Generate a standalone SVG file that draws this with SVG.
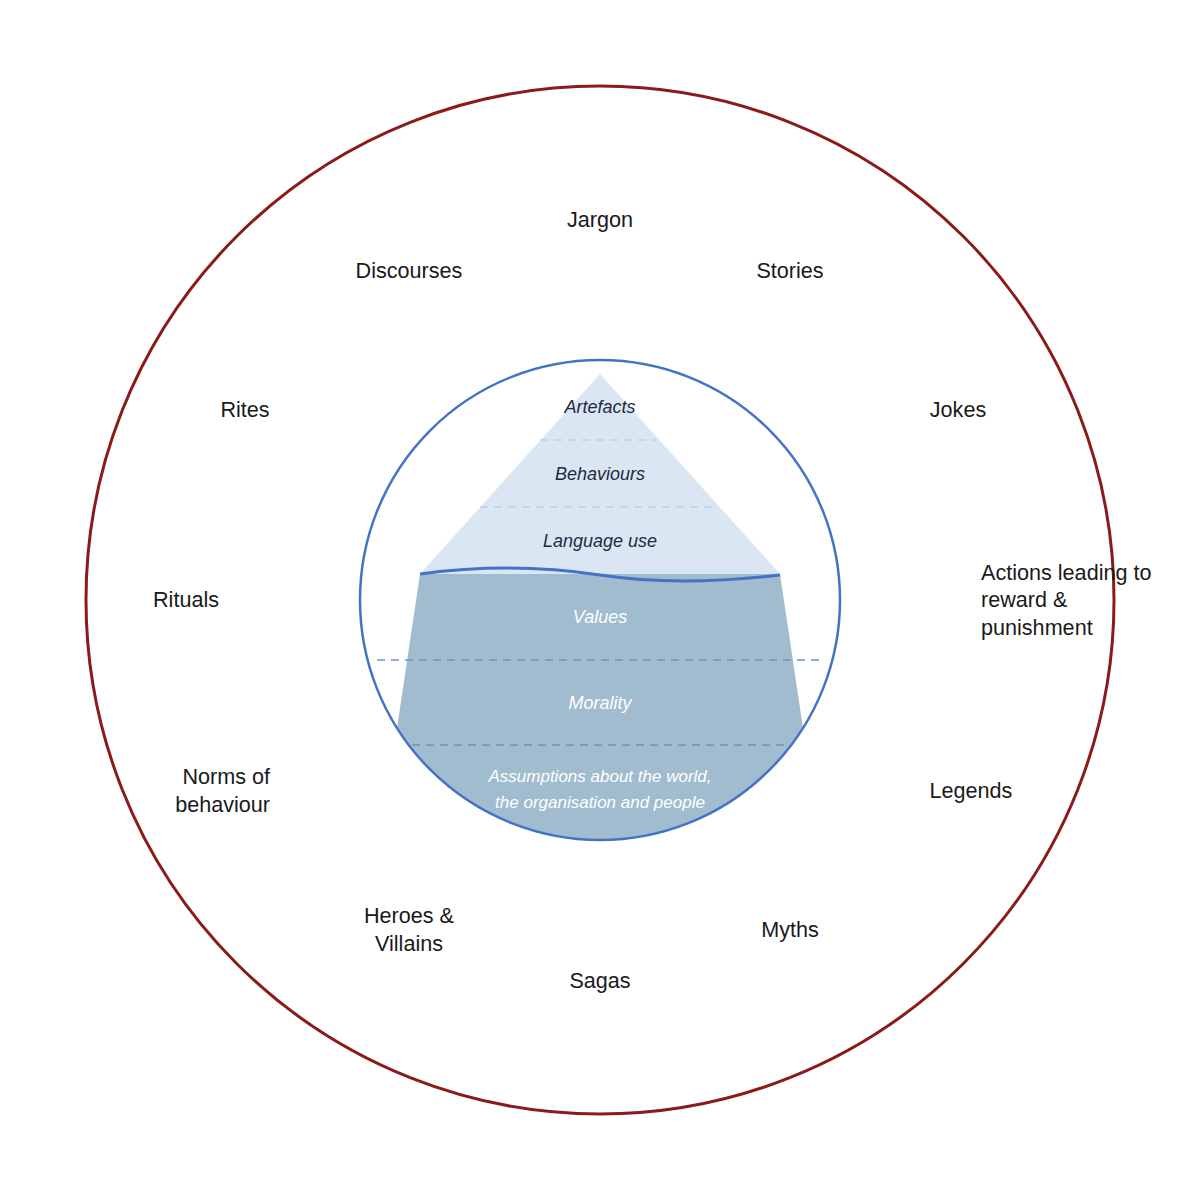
<svg xmlns="http://www.w3.org/2000/svg" width="1200" height="1200" viewBox="0 0 1200 1200">
<style>
.lbl{font-family:"Liberation Sans",Arial,sans-serif;font-size:21.6px;fill:#1a1a1a}
.in{font-family:"Liberation Sans",Arial,sans-serif;font-size:18px;font-style:italic;text-anchor:middle}
.d{fill:#1f2a44}.w{fill:#ffffff}
</style>
<rect width="1200" height="1200" fill="#fff"/>
<g id="outer"><circle cx="600" cy="600" r="514" fill="none" stroke="#8b1a1a" stroke-width="3"/></g>
<g id="iceberg">
<polygon points="600,374 420,574 780,574" fill="#dae7f3"/>
<path d="M420,574 L397,728 A240,240 0 0 0 803,728 L780,574 Z" fill="#a1bccf"/>
<path d="M420,574 C480,566 540,566 600,575 S720,582 780,575" fill="none" stroke="#4472c4" stroke-width="3"/>
<g stroke-dasharray="8,6" fill="none">
<line x1="540" y1="440" x2="656" y2="440" stroke="#b0c6dd" stroke-width="1.2"/>
<line x1="480" y1="507" x2="716" y2="507" stroke="#b0c6dd" stroke-width="1.2"/>
<line x1="377" y1="660" x2="823" y2="660" stroke="#6e93c6" stroke-width="1.5"/>
<line x1="412" y1="745" x2="790" y2="745" stroke="#6e93c6" stroke-width="1.5"/>
</g>
<circle cx="600" cy="600" r="240" fill="none" stroke="#4472c4" stroke-width="2.5"/>
<text class="in d" x="600" y="413">Artefacts</text>
<text class="in d" x="600" y="480">Behaviours</text>
<text class="in d" x="600" y="547">Language use</text>
<text class="in w" x="600" y="623">Values</text>
<text class="in w" x="600" y="709">Morality</text>
<text class="in w" x="600" y="782" style="font-size:17px">Assumptions about the world,</text>
<text class="in w" x="600" y="808" style="font-size:17px">the organisation and people</text>
</g>
<g id="labels" class="lbl">
<text class="lbl" x="600" y="227" text-anchor="middle">Jargon</text>
<text class="lbl" x="409" y="278" text-anchor="middle">Discourses</text>
<text class="lbl" x="790" y="278" text-anchor="middle">Stories</text>
<text class="lbl" x="245" y="417" text-anchor="middle">Rites</text>
<text class="lbl" x="958" y="417" text-anchor="middle">Jokes</text>
<text class="lbl" x="186" y="607" text-anchor="middle">Rituals</text>
<text class="lbl" x="981" y="580">Actions leading to</text>
<text class="lbl" x="981" y="607">reward &amp;</text>
<text class="lbl" x="981" y="635">punishment</text>
<text class="lbl" x="270" y="784" text-anchor="end">Norms of</text>
<text class="lbl" x="270" y="812" text-anchor="end">behaviour</text>
<text class="lbl" x="971" y="798" text-anchor="middle">Legends</text>
<text class="lbl" x="409" y="923" text-anchor="middle">Heroes &amp;</text>
<text class="lbl" x="409" y="951" text-anchor="middle">Villains</text>
<text class="lbl" x="790" y="937" text-anchor="middle">Myths</text>
<text class="lbl" x="600" y="988" text-anchor="middle">Sagas</text>
</g>
</svg>
